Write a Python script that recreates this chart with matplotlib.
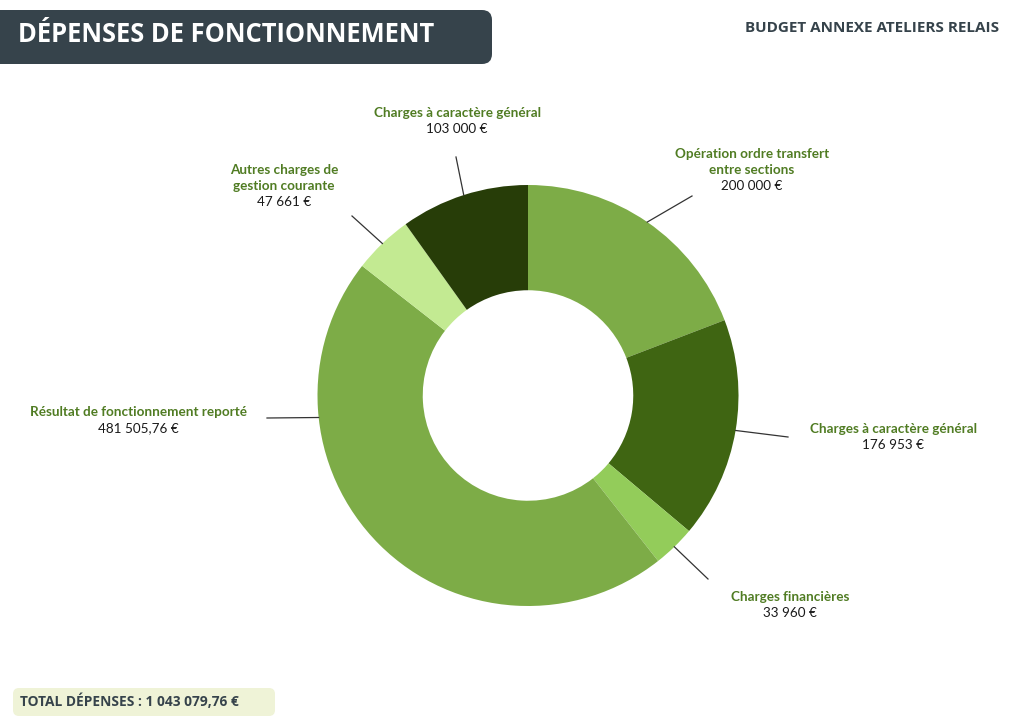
import numpy as np
import matplotlib
matplotlib.use("Agg")
import matplotlib.pyplot as plt
from matplotlib.patches import FancyBboxPatch

# data
labels = ["Opération ordre transfert\nentre sections",
          "Charges à caractère général",
          "Charges financières",
          "Résultat de fonctionnement reporté",
          "Autres charges de\ngestion courante",
          "Charges à caractère général"]
values = [200000, 176953, 33960, 481505.76, 47661, 103000]
value_text = ["200 000 €", "176 953 €", "33 960 €", "481 505,76 €", "47 661 €", "103 000 €"]
colors = ["#7dac47", "#3f6512", "#93cc5a", "#7dac47", "#c3ea92", "#273d08"]
total_text = "TOTAL DÉPENSES : 1 043 079,76 €"

W, H = 1024, 724
fig = plt.figure(figsize=(W / 100, H / 100), dpi=100)
ax = fig.add_axes([0, 0, 1, 1])
ax.set_xlim(0, W)
ax.set_ylim(0, H)
ax.axis("off")

def Y(y):
    # pixel row (top down) -> axes y
    return H - y

cx, cy, R = 528, 395.5, 210.5
wedges, _ = ax.pie(values, colors=colors, startangle=90, counterclock=False,
                   radius=R, center=(cx, Y(cy)),
                   wedgeprops=dict(width=R * 0.5, linewidth=0))
ax.set_xlim(0, W)
ax.set_ylim(0, H)
ax.set_aspect("auto")

# label placement: text centre (px), leader end (px), optional anchor angle
label_pos = [(752, 170), (893, 437), (790, 605), (138, 420), (284, 186), (457, 121)]
leader_end = [(692, 196), (788, 437), (708, 579), (267, 418), (352, 216), (456, 157)]
anchor_override = {3: 186.0}

green = "#507c23"
for i, w in enumerate(wedges):
    ang = anchor_override.get(i, (w.theta1 + w.theta2) / 2)
    ax_ = cx + R * np.cos(np.radians(ang))
    ay_ = Y(cy) + R * np.sin(np.radians(ang))
    ex, ey = leader_end[i]
    ax.plot([ax_, ex], [ay_, Y(ey)], color="#333333", lw=0.9)
    tx, ty = label_pos[i]
    nlines = labels[i].count("\n") + 2
    step = 15.5
    top = ty - step * (nlines - 1) / 2
    for k, line in enumerate(labels[i].split("\n")):
        ax.text(tx, Y(top + k * step), line, ha="center", va="center",
                fontsize=9.7, fontweight="bold", color=green, family="Lato")
    ax.text(tx, Y(top + (nlines - 1) * step), value_text[i], ha="center", va="center",
            fontsize=9.7, color="#1a1a1a", family="Lato")

# title banner
ax.add_patch(FancyBboxPatch((-30, Y(64)), 522, 54,
                            boxstyle="round,pad=0,rounding_size=10",
                            fc="#36434b", ec="none"))
ax.text(18, Y(35), "DÉPENSES DE FONCTIONNEMENT", ha="left", va="center",
        fontsize=18.4, fontweight="bold", color="white", family="Open Sans")
ax.text(999, Y(28), "BUDGET ANNEXE ATELIERS RELAIS", ha="right", va="center",
        fontsize=11, fontweight="bold", color="#36434b", family="Open Sans")

# total box
ax.add_patch(FancyBboxPatch((13, Y(716)), 262, 28,
                            boxstyle="round,pad=0,rounding_size=6",
                            fc="#eff3d7", ec="none"))
ax.text(20, Y(701), total_text, ha="left", va="center",
        fontsize=9.9, fontweight="bold", color="#36434b", family="Open Sans")

fig.savefig("out.png", dpi=100)
